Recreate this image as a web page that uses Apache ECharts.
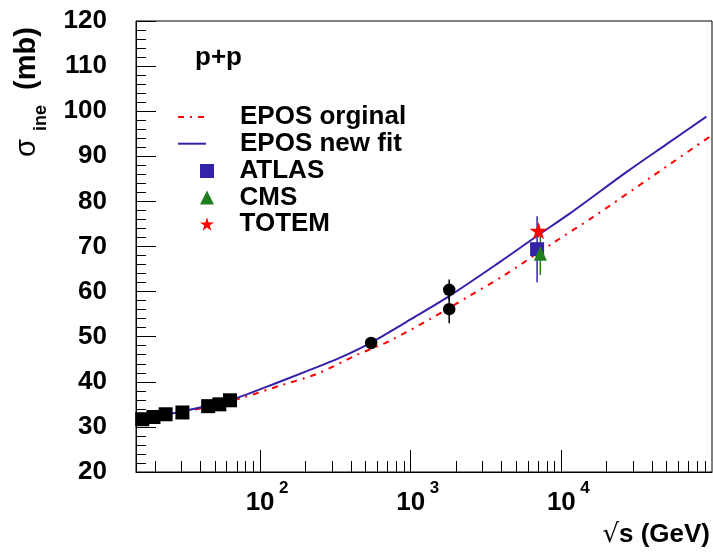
<!DOCTYPE html>
<html><head><meta charset="utf-8">
<script src="https://cdn.jsdelivr.net/npm/echarts@6/dist/echarts.min.js"></script>
<style>html,body{margin:0;padding:0;background:#fff}#c{width:713px;height:552px}</style>
</head><body><div id="c"></div>
<script>
// ---- data (sqrt(s) in GeV, sigma_inel in mb) ----
const eposNewFitE     = [15, 20, 30, 45, 63, 80, 121, 202, 337, 546, 937, 1800, 3917, 7000, 11460, 27300, 50000, 91800];
const eposNewFitSigma = [31.5, 32.2, 33.4, 34.7, 35.9, 37.1, 39.4, 42.3, 45.3, 48.7, 53.3, 59.0, 66.6, 72.5, 77.4, 86.6, 92.7, 98.8];
const eposOrigE       = [15, 20, 30, 45, 75, 134, 236, 435, 727, 1374, 2500, 4120, 9100, 16370, 39100, 100000];
const eposOrigSigma   = [31.4, 32.1, 33.2, 34.5, 36.4, 39.1, 41.7, 45.9, 49.1, 54.1, 59.2, 63.5, 71.1, 76.6, 85.3, 94.7];
const lowEnergyE      = [16.5, 19.6, 23.6, 30.5, 45.2, 53.6, 63.1];
const lowEnergySigma  = [31.7, 32.2, 32.8, 33.2, 34.6, 35.0, 35.9];
const colliderE       = [546, 1800, 1800];
const colliderSigma   = [48.6, 60.4, 56.1];
const colliderErr     = [0.8, 2.3, 3.1];
const atlasE = [6900], atlasSigma = [69.4], atlasErr = [7.3];
const cmsE   = [7250], cmsSigma   = [68.5], cmsErr   = [4.8];
const totemE = [7050], totemSigma = [73.5], totemErr = [1.5];
const xMin = 15, xMax = 100000;
const xMajorTicks = [100, 1000, 10000];
const xMinorTicks = [20,30,40,50,60,70,80,90,200,300,400,500,600,700,800,900,
                     2000,3000,4000,5000,6000,7000,8000,9000,20000,30000,40000,50000,60000,70000,80000,90000];
const yMin = 20, yMax = 120, yStep = 10;

// ---- helpers ----
const lg = Math.log10;
const pairs = (xs, ys) => xs.map((x, i) => [lg(x), ys[i]]);
const errs = (xs, ys, es) => xs.map((x, i) => [lg(x), ys[i] - es[i], ys[i] + es[i]]);
const FONT = '"Liberation Sans", Arial, sans-serif';
const BLUE = '#3322aa', RED = '#ff0000', GREEN = '#1f7f1f';
const STAR = 'path://M0,-1L0.2245,-0.309L0.951,-0.309L0.363,0.118L0.588,0.809L0,0.382L-0.588,0.809L-0.363,0.118L-0.951,-0.309L-0.2245,-0.309Z';

function errSeries(name, data, color) {
  return {
    type: 'custom', name: name, data: data, z: 3, silent: true,
    encode: {x: 0, y: [1, 2]},
    renderItem: function (params, api) {
      const a = api.coord([api.value(0), api.value(1)]);
      const b = api.coord([api.value(0), api.value(2)]);
      return {type: 'line', shape: {x1: a[0], y1: a[1], x2: b[0], y2: b[1]},
              style: {stroke: color, lineWidth: 1.5}};
    }
  };
}

const chart = echarts.init(document.getElementById('c'), null, {renderer: 'canvas'});
const option = {
  animation: false,
  backgroundColor: '#fff',
  grid: {left: 136, right: 1, top: 21, bottom: 80, show: true, borderColor: '#000', borderWidth: 1,
         backgroundColor: 'transparent', containLabel: false, outerBoundsMode: 'none'},
  xAxis: [{
    type: 'value', min: lg(xMin), max: lg(xMax), position: 'bottom',
    axisLine: {show: true, onZero: false, lineStyle: {color: '#000', width: 1}},
    axisTick: {show: true, inside: true, length: 22, customValues: xMajorTicks.map(lg), lineStyle: {color: '#000'}},
    axisLabel: {
      show: true, customValues: xMajorTicks.map(lg), margin: 18, color: '#000',
      fontFamily: FONT, fontWeight: 'bold', fontSize: 26, lineHeight: 26,
      formatter: v => '10'
    },
    splitLine: {show: false}
  }, {
    type: 'value', min: lg(xMin), max: lg(xMax), position: 'bottom', gridIndex: 0,
    axisLine: {show: false, onZero: false},
    axisTick: {show: true, inside: true, length: 11, customValues: xMinorTicks.map(lg), lineStyle: {color: '#000'}},
    axisLabel: {
      show: true, customValues: xMajorTicks.map(lg), margin: 8, color: '#000', align: 'left',
      fontFamily: FONT, fontWeight: 'bold', fontSize: 17, lineHeight: 17, padding: [0, 0, 0, 19],
      formatter: v => String(Math.round(v))
    },
    splitLine: {show: false}
  }],
  yAxis: {
    type: 'value', min: yMin, max: yMax, interval: yStep,
    axisLine: {show: true, lineStyle: {color: '#000', width: 1}},
    axisTick: {show: true, inside: true, length: 20, lineStyle: {color: '#000'}},
    minorTick: {show: true, splitNumber: 5, length: 10, lineStyle: {color: '#000'}},
    splitLine: {show: false}, minorSplitLine: {show: false},
    axisLabel: {fontFamily: FONT, fontWeight: 'bold', fontSize: 26, color: '#000', margin: 29}
  },
  legend: [{
    orient: 'vertical', left: 177, top: 104, padding: 0, itemWidth: 28, itemHeight: 14, itemGap: 0.7,
    selectedMode: false,
    data: [{name: 'EPOS orginal', itemStyle: {opacity: 0}}, {name: 'EPOS new fit', itemStyle: {opacity: 0}}],
    textStyle: {fontFamily: FONT, fontWeight: 'bold', fontSize: 26, color: '#000', padding: [0, 0, 0, 29]}
  }, {
    orient: 'vertical', left: 200, top: 158, padding: 0, itemWidth: 14, itemHeight: 14, itemGap: 0.5,
    selectedMode: false, symbolKeepAspect: true,
    data: ['ATLAS', 'CMS', 'TOTEM'],
    textStyle: {fontFamily: FONT, fontWeight: 'bold', fontSize: 26, color: '#000', padding: [0, 0, 0, 20.5]}
  }],
  series: [
    {type: 'line', name: 'EPOS orginal', data: pairs(eposOrigE, eposOrigSigma), showSymbol: false, symbol: 'none',
     smooth: 0.3, z: 2, lineStyle: {color: RED, width: 2, type: [6, 6, 2, 6]}, itemStyle: {color: RED}},
    {type: 'line', name: 'EPOS new fit', data: pairs(eposNewFitE, eposNewFitSigma), showSymbol: false, symbol: 'none',
     smooth: 0.3, z: 2, lineStyle: {color: BLUE, width: 2}, itemStyle: {color: BLUE}},
    errSeries('errColl', errs(colliderE, colliderSigma, colliderErr), '#000'),
    errSeries('errATLAS', errs(atlasE, atlasSigma, atlasErr), BLUE),
    errSeries('errCMS', errs(cmsE, cmsSigma, cmsErr), GREEN),
    errSeries('errTOTEM', errs(totemE, totemSigma, totemErr), RED),
    {type: 'scatter', name: 'lowE', data: pairs(lowEnergyE, lowEnergySigma), symbol: 'rect', symbolSize: 14, z: 4,
     itemStyle: {color: '#000', opacity: 1}},
    {type: 'scatter', name: 'collider', data: pairs(colliderE, colliderSigma), symbol: 'circle', symbolSize: 12.5, z: 4,
     itemStyle: {color: '#000', opacity: 1}},
    {type: 'scatter', name: 'ATLAS', data: pairs(atlasE, atlasSigma), symbol: 'rect', symbolSize: 14, z: 5,
     itemStyle: {color: BLUE, opacity: 1}},
    {type: 'scatter', name: 'CMS', data: pairs(cmsE, cmsSigma), symbol: 'triangle', symbolSize: [13, 15], z: 6,
     itemStyle: {color: GREEN, opacity: 1}},
    {type: 'scatter', name: 'TOTEM', data: pairs(totemE, totemSigma), symbol: STAR, symbolSize: 18, symbolKeepAspect: true, z: 7,
     itemStyle: {color: RED, opacity: 1}}
  ],
  graphic: [
    {type: 'text', x: 195, y: 58, style: {text: 'p+p', font: 'bold 26px ' + FONT, fill: '#000', verticalAlign: 'middle'}},
    {type: 'text', x: 710, y: 535, style: {
      text: '{r|√}{b|s (GeV)}', align: 'right', verticalAlign: 'middle',
      rich: {r: {font: 'normal 26px "DejaVu Sans"', fill: '#000'}, b: {font: 'bold 26px ' + FONT, fill: '#000'}}}},
    {type: 'group', x: 37, y: 157, rotation: Math.PI / 2, children: [
      {type: 'text', x: 0, y: -10, style: {text: 'σ', font: 'normal 29px ' + FONT, fill: '#000', verticalAlign: 'middle'}},
      {type: 'text', x: 26, y: 4, style: {text: 'ine', font: 'bold 18px ' + FONT, fill: '#000', verticalAlign: 'middle'}},
      {type: 'text', x: 67, y: -10, style: {text: '(mb)', font: 'bold 29px ' + FONT, fill: '#000', verticalAlign: 'middle'}}
    ]}
  ]
};
chart.setOption(option);
</script></body></html>
